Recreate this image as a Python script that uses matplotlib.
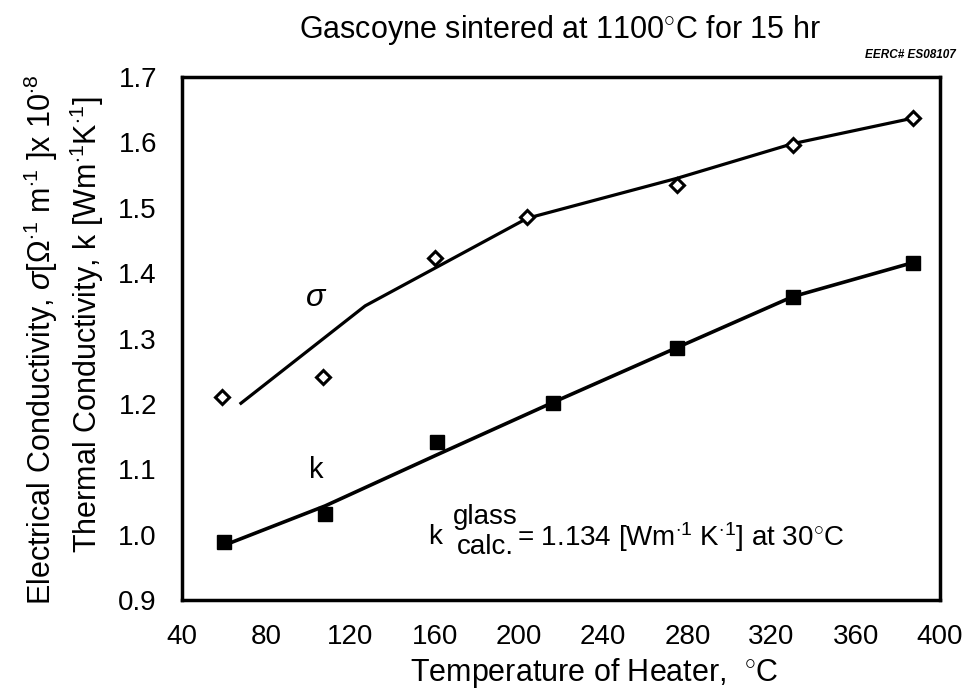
import matplotlib
matplotlib.use("Agg")
import matplotlib.pyplot as plt

plt.rcParams['font.family'] = ['Liberation Sans', 'DejaVu Sans']
plt.rcParams['mathtext.fontset'] = 'custom'
plt.rcParams['mathtext.rm'] = 'Liberation Sans'
plt.rcParams['mathtext.it'] = 'Liberation Sans:italic'

# sigma data (x 10^-8) and its drawn curve
sig_T = [59, 107, 160, 204, 275, 330, 387]
sig_v = [1.211, 1.241, 1.423, 1.486, 1.535, 1.596, 1.637]
sig_fit_T = [68, 127, 204, 275, 330, 387]
sig_fit_v = [1.201, 1.350, 1.484, 1.545, 1.598, 1.637]

# thermal conductivity k data and its drawn curve
k_T = [60, 108, 161, 216, 275, 330, 387]
k_v = [0.989, 1.032, 1.142, 1.202, 1.286, 1.364, 1.416]
k_fit_T = [61, 108, 161, 216, 275, 330, 387]
k_fit_v = [0.985, 1.044, 1.122, 1.202, 1.286, 1.364, 1.416]

xticks = [40, 80, 120, 160, 200, 240, 280, 320, 360, 400]
yticks = [0.9, 1.0, 1.1, 1.2, 1.3, 1.4, 1.5, 1.6, 1.7]

fig = plt.figure(figsize=(9.67, 6.92), dpi=100)
ax = fig.add_axes([0.1882, 0.1329, 0.7839, 0.7558])

ax.plot(sig_fit_T, sig_fit_v, color='black', lw=2.3)
ax.plot(sig_T, sig_v, ls='none', marker='D', ms=7, mfc='white', mec='black', mew=2.2)
ax.plot(k_fit_T, k_fit_v, color='black', lw=2.6)
ax.plot(k_T, k_v, ls='none', marker='s', ms=10, mfc='black', mec='black')

ax.set_xlim(40, 400)
ax.set_ylim(0.9, 1.7)
ax.set_xticks(xticks)
ax.set_yticks(yticks)
ax.set_yticklabels(['%.1f' % v for v in yticks])
ax.tick_params(axis='y', length=0, labelsize=20, pad=18)
ax.tick_params(axis='x', length=0, labelsize=20, pad=17)
for s in ax.spines.values():
    s.set_linewidth(2.5)

ax.text(103.6, 1.362, r'$\it{\sigma}$', fontsize=23, ha='center', va='center')
ax.text(103.6, 1.099, 'k', fontsize=21, ha='center', va='center')
ax.text(160, 0.996, 'k', fontsize=20, ha='center', va='center')
ax.text(184, 1.027, 'glass', fontsize=20, ha='center', va='center')
ax.text(184, 0.981, 'calc.', fontsize=20, ha='center', va='center')
ax.text(199, 0.996, r'= 1.134 [Wm$^{\cdot1}$ K$^{\cdot1}$] at 30$^{\circ}$C',
        fontsize=20, ha='left', va='center')

fig.text(0.579, 0.957, r'Gascoyne sintered at 1100$^{\circ}$C for 15 hr',
         fontsize=22, ha='center', va='center')
fig.text(0.988, 0.92, 'EERC# ES08107', fontsize=8.5, style='italic',
         weight='bold', ha='right', va='center')
fig.text(0.615, 0.028, r'Temperature of Heater,  $^{\circ}$C',
         fontsize=22, ha='center', va='center')
fig.text(0.042, 0.509,
         r'Electrical Conductivity, $\it{\sigma}$[$\Omega^{\cdot1}$ m$^{\cdot1}$ ]x 10$^{\cdot8}$',
         fontsize=22, rotation=90, ha='center', va='center')
fig.text(0.09, 0.53, r'Thermal Conductivity, k [Wm$^{\cdot1}$K$^{\cdot1}$]',
         fontsize=22, rotation=90, ha='center', va='center')

fig.savefig('out.png', dpi=100)
